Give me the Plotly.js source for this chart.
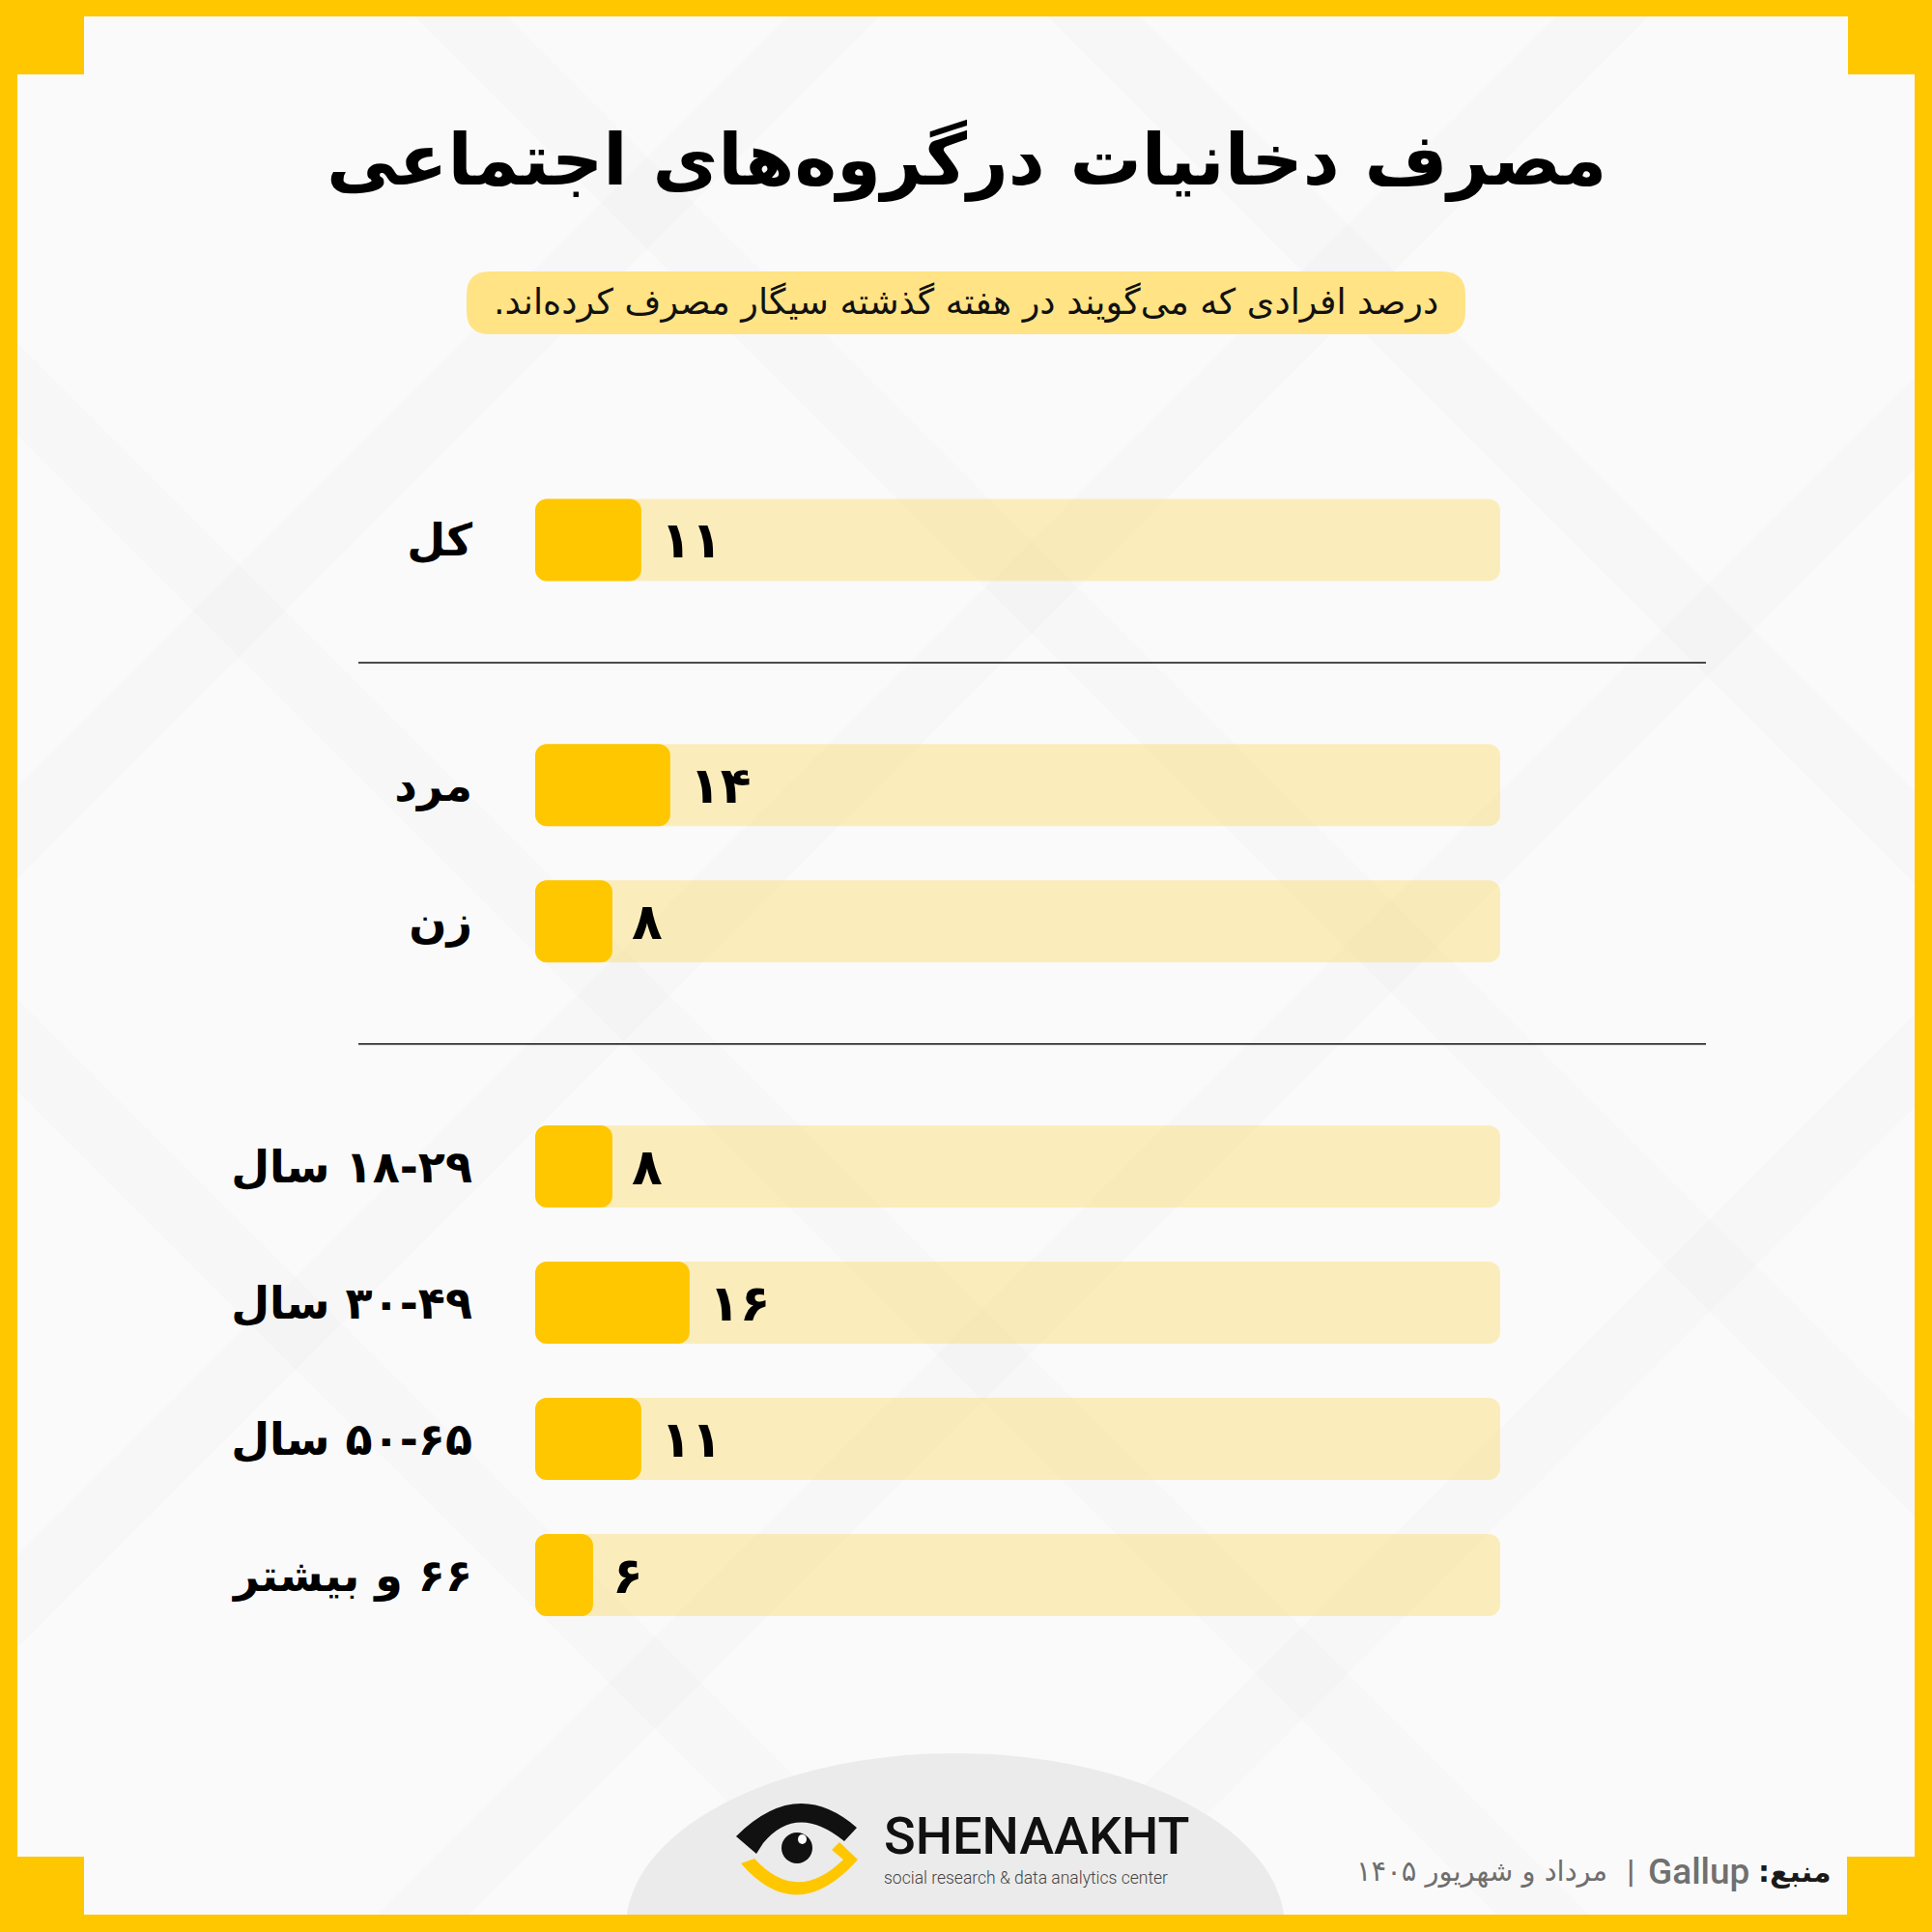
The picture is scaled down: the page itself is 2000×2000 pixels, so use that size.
<!DOCTYPE html>
<html><head><meta charset="utf-8">
<script src="https://cdn.plot.ly/plotly-3.0.1.min.js"></script>
<style>html,body{margin:0;padding:0;background:#fafafa}</style>
</head><body><div id="chart" style="width:2000px;height:2000px"></div>
<script>
// ---- data ----
const categories = ['کل', 'مرد', 'زن', '۱۸-۲۹ سال', '۳۰-۴۹ سال', '۵۰-۶۵ سال', '۶۶ و بیشتر'];
const groups = [0, 1, 1, 2, 2, 2, 2];
const values = [11, 14, 8, 8, 16, 11, 6];
const trackMax = 100;
const titleText = 'مصرف دخانیات درگروه‌های اجتماعی';
const subtitleText = 'درصد افرادی که می‌گویند در هفته گذشته سیگار مصرف کرده‌اند.';
const sourceLabel = 'منبع:';
const sourceName = 'Gallup';
const sourceDate = 'مرداد و شهریور ۱۴۰۵';
const brandName = 'SHENAAKHT';
const brandTag = 'social research & data analytics center';

// ---- layout helpers ----
const W = 2000, H = 2000;
const YELLOW = '#FFC700';
const rtl = s => '\u202B' + s + '\u202C';
const groupGap = 0.8;
const rowPos = categories.map((c, i) => i + groups[i] * groupGap);
const toFa = n => String(n).replace(/\d/g, d => '۰۱۲۳۴۵۶۷۸۹'[d]);
const px = x => x / W;
const py = y => 1 - y / H;
const P = (x, y) => `${px(x)},${py(y)}`;
const rowPx = 141, firstRowY = 559;
const yTop = -firstRowY / rowPx, yBot = (H - firstRowY) / rowPx;
const barW = 0.603, R = 12;
const noLine = {width: 0, color: 'rgba(0,0,0,0)'};

// bars are drawn from their end back to 0 (base set) so Plotly rounds both ends
const track = {
  type: 'bar', orientation: 'h',
  base: values.map(() => trackMax), x: values.map(() => -trackMax), y: rowPos,
  width: barW, marker: {color: 'rgba(255,199,0,0.25)', cornerradius: R, line: noLine},
  hoverinfo: 'skip', showlegend: false
};
const bars = {
  type: 'bar', orientation: 'h',
  base: values, x: values.map(v => -v), y: rowPos,
  width: barW, marker: {color: YELLOW, cornerradius: R, line: noLine},
  hoverinfo: 'skip', showlegend: false
};

const rect = (x0, y0, x1, y1, color) => ({type: 'rect', xref: 'paper', yref: 'paper',
  x0: px(x0), x1: px(x1), y0: py(y0), y1: py(y1), fillcolor: color, line: {width: 0}, layer: 'below'});

const shapes = [];
// faint diagonal background bands (decoration)
const bandDown = [-1115, -460, 385, 1064];   // y - x = c
const bandUp = [880, 1676, 2420, 3080];      // x + y = c
const bw = 48;
const bandFill = 'rgba(0,0,0,0.011)';
bandDown.forEach(c => shapes.push({type: 'path', xref: 'paper', yref: 'paper', layer: 'below',
  path: `M ${P(-600, -600 + c - bw)} L ${P(2600, 2600 + c - bw)} L ${P(2600, 2600 + c + bw)} L ${P(-600, -600 + c + bw)} Z`,
  fillcolor: bandFill, line: {width: 0}}));
bandUp.forEach(c => shapes.push({type: 'path', xref: 'paper', yref: 'paper', layer: 'below',
  path: `M ${P(-600, c + 600 - bw)} L ${P(2600, c - 2600 - bw)} L ${P(2600, c - 2600 + bw)} L ${P(-600, c + 600 + bw)} Z`,
  fillcolor: bandFill, line: {width: 0}}));
// grey arch behind logo
shapes.push({type: 'circle', xref: 'paper', yref: 'paper', x0: px(648), x1: px(1330), y0: py(1815), y1: py(2175),
  fillcolor: '#ebebeb', line: {width: 0}, layer: 'below'});
// frame
shapes.push(rect(0, 0, W, 17, YELLOW));
shapes.push(rect(0, 0, 18, H, YELLOW));
shapes.push(rect(1982, 0, W, H, YELLOW));
shapes.push(rect(0, 1982, W, H, YELLOW));
shapes.push(rect(0, 0, 87, 77, YELLOW));
shapes.push(rect(1913, 0, W, 77, YELLOW));
shapes.push(rect(0, 1922, 87, H, YELLOW));
shapes.push(rect(1912, 1922, W, H, YELLOW));
// subtitle pill
(function () {
  const x0 = 483, x1 = 1517, y0 = 281, y1 = 346, r = 24;
  const path = `M ${P(x0 + r, y0)} L ${P(x1 - r, y0)} Q ${P(x1, y0)} ${P(x1, y0 + r)} L ${P(x1, y1 - r)} Q ${P(x1, y1)} ${P(x1 - r, y1)} L ${P(x0 + r, y1)} Q ${P(x0, y1)} ${P(x0, y1 - r)} L ${P(x0, y0 + r)} Q ${P(x0, y0)} ${P(x0 + r, y0)} Z`;
  shapes.push({type: 'path', xref: 'paper', yref: 'paper', path, fillcolor: '#FFE384', line: {width: 0}, layer: 'below'});
})();
// group dividers
for (let i = 1; i < categories.length; i++) {
  if (groups[i] !== groups[i - 1]) {
    const ym = (rowPos[i] + rowPos[i - 1]) / 2;
    shapes.push({type: 'line', xref: 'paper', yref: 'y', x0: px(371), x1: px(1766), y0: ym, y1: ym,
      line: {color: '#111', width: 1.5}, layer: 'below'});
  }
}
// eye logo
shapes.push({type: 'path', xref: 'paper', yref: 'paper',
  path: `M ${P(762, 1901)} Q ${P(825, 1838)} ${P(887, 1892)} L ${P(874, 1906)} Q ${P(825, 1866)} ${P(790, 1908)} L ${P(783, 1919)} Z`,
  fillcolor: '#111', line: {width: 0}});
shapes.push({type: 'circle', xref: 'paper', yref: 'paper', x0: px(809), x1: px(841), y0: py(1897), y1: py(1929),
  fillcolor: '#111', line: {width: 0}});
shapes.push({type: 'circle', xref: 'paper', yref: 'paper', x0: px(826), x1: px(835), y0: py(1899), y1: py(1909),
  fillcolor: '#ffffff', line: {width: 0}});
shapes.push({type: 'path', xref: 'paper', yref: 'paper',
  path: `M ${P(767, 1929)} Q ${P(825, 1996)} ${P(888, 1925)} L ${P(869, 1907)} L ${P(861, 1915)} L ${P(873, 1925)} Q ${P(825, 1972)} ${P(781, 1924)} Z`,
  fillcolor: YELLOW, line: {width: 0}});

const FA = 'DejaVu Sans';
const annotations = [];
annotations.push({xref: 'paper', yref: 'paper', x: 0.5, y: py(166), xanchor: 'center', yanchor: 'middle',
  text: rtl(titleText), showarrow: false, font: {family: FA, size: 74, weight: 'bold', color: '#000'}});
annotations.push({xref: 'paper', yref: 'paper', x: 0.5, y: py(312), xanchor: 'center', yanchor: 'middle',
  text: rtl(subtitleText), showarrow: false, font: {family: FA, size: 36.5, color: '#111'}});
values.forEach((v, i) => annotations.push({xref: 'x', yref: 'y', x: v, y: rowPos[i], xanchor: 'left', yanchor: 'middle',
  xshift: 18, text: toFa(v), showarrow: false, font: {family: FA, size: 52, weight: 'bold', color: '#000'}}));
// footer
annotations.push({xref: 'paper', yref: 'paper', x: px(1898), y: py(1937), xanchor: 'right', yanchor: 'middle',
  text: rtl(sourceLabel), showarrow: false, font: {family: FA, size: 30, weight: 'bold', color: '#1a1a1a'}});
annotations.push({xref: 'paper', yref: 'paper', x: px(1813), y: py(1937), xanchor: 'right', yanchor: 'middle',
  text: sourceName, showarrow: false, font: {family: 'Roboto', size: 37, weight: 500, color: '#707070'}});
annotations.push({xref: 'paper', yref: 'paper', x: px(1688), y: py(1937), xanchor: 'center', yanchor: 'middle',
  text: '|', showarrow: false, font: {family: 'Roboto', size: 34, weight: 500, color: '#707070'}});
annotations.push({xref: 'paper', yref: 'paper', x: px(1666), y: py(1937), xanchor: 'right', yanchor: 'middle',
  text: rtl(sourceDate), showarrow: false, font: {family: FA, size: 29, color: '#6e6e6e'}});
annotations.push({xref: 'paper', yref: 'paper', x: px(913), y: py(1900), xanchor: 'left', yanchor: 'middle',
  text: brandName, showarrow: false, font: {family: 'Roboto', size: 54, weight: 500, color: '#111'}});
annotations.push({xref: 'paper', yref: 'paper', x: px(913), y: py(1944), xanchor: 'left', yanchor: 'middle',
  text: brandTag, showarrow: false, font: {family: 'Roboto', size: 17.5, weight: 300, color: '#444'}});

const layout = {
  width: W, height: H,
  margin: {l: 0, r: 0, t: 0, b: 0, pad: 0},
  paper_bgcolor: '#fafafa', plot_bgcolor: 'rgba(0,0,0,0)',
  barmode: 'overlay', showlegend: false,
  xaxis: {domain: [px(554), px(1553)], range: [0, trackMax], visible: false, fixedrange: true},
  yaxis: {domain: [0, 1], range: [yBot, yTop], tickmode: 'array', tickvals: rowPos, ticktext: categories.map(rtl),
    showgrid: false, zeroline: false, showline: false, ticks: '', ticklabelstandoff: 64,
    tickfont: {family: FA, size: 46, weight: 'bold', color: '#000'}, fixedrange: true},
  shapes, annotations
};
Plotly.newPlot('chart', [track, bars], layout, {displayModeBar: false, staticPlot: true});
</script></body></html>
